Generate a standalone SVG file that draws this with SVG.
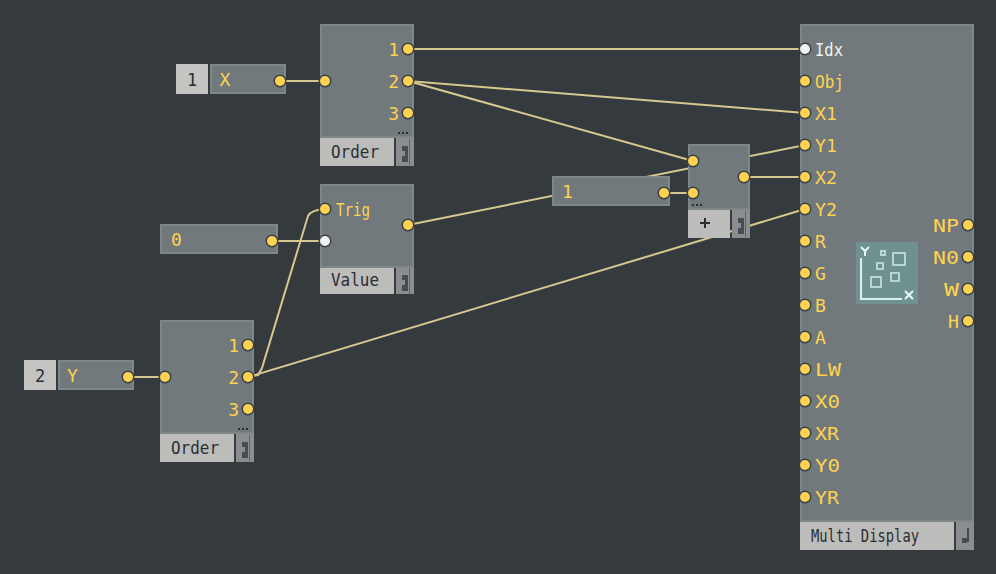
<svg xmlns="http://www.w3.org/2000/svg" width="996" height="574" viewBox="0 0 996 574">
<style>
.n{fill:#72797c;stroke:#7f8688;stroke-width:2}
.l{fill:#bcbcba}
.s{fill:#8b8e90}
.i{fill:#c4c4c2}
.w{fill:none;stroke:#d6c88e;stroke-width:2}
.h{fill:#3b3f44}
.p{fill:#fdd34f}
.q{fill:#f2f2f2}
text{font-family:"DejaVu Sans Mono","Liberation Mono",monospace;font-size:18px}
.y{fill:#fdd34f}
.d{fill:#2b2e32;font-size:17px}
.g{fill:#484c50}
.v{fill:#5d6265}
.c{fill:none;stroke:#b6d6d4;stroke-width:2}
</style>
<defs>
<g id="port"><circle r="6.5" class="h"/><circle r="5" class="p"/></g>
<g id="wport"><circle r="6.5" class="h"/><circle r="5" class="q"/></g>
<g id="dots"><rect x="0" width="2" height="2" class="d"/><rect x="4" width="2" height="2" class="d"/><rect x="8" width="2" height="2" class="d"/></g>
<g id="sicon"><path d="M2,1h6v5h-6zM5,6h3v5h-3zM2,11h6v6h-6z" class="g"/><rect x="9" y="-6" width="1" height="26" class="v"/></g>
</defs>
<rect width="996" height="574" fill="#343a3e"/>
<g id="connectors">
<path class="w" d="M280,81H325"/>
<path class="w" d="M408,49H805"/>
<path class="w" d="M408,81L805,113"/>
<path class="w" d="M408,81L693,161"/>
<path class="w" d="M272,241H325"/>
<path class="w" d="M128,377H165"/>
<path class="w" d="M248,377L258,375L262,368L308,216Q311,210 325,209"/>
<path class="w" d="M248,377L805,209"/>
<path class="w" d="M408,225L805,145"/>
<path class="w" d="M664,193H693"/>
<path class="w" d="M744,177H805"/>
</g>
<g id="x-index"><rect x="176" y="64" width="32" height="30" class="i"/><text x="192" y="86" text-anchor="middle" class="d">1</text></g>
<g id="x-const"><rect x="211" y="65" width="74" height="28" class="n"/><text x="219.5" y="85.5" class="y">X</text><use href="#port" x="280" y="81"/></g>
<g id="y-index"><rect x="24" y="360" width="32" height="30" class="i"/><text x="40" y="382" text-anchor="middle" class="d">2</text></g>
<g id="y-const"><rect x="59" y="361" width="74" height="28" class="n"/><text x="67" y="381.5" class="y">Y</text><use href="#port" x="128" y="377"/></g>
<g id="zero-const"><rect x="161" y="225" width="116" height="28" class="n"/><text x="171" y="245.5" class="y">0</text><use href="#port" x="272" y="241"/></g>
<g id="one-const"><rect x="553" y="177" width="116" height="28" class="n"/><text x="562" y="197.5" class="y">1</text><use href="#port" x="664" y="193"/></g>
<g id="order-x">
<rect x="321" y="25" width="92" height="112" class="n"/>
<use href="#port" x="325" y="81"/><use href="#port" x="408" y="49"/><use href="#port" x="408" y="81"/><use href="#port" x="408" y="113"/>
<text x="399" y="55.5" text-anchor="end" class="y">1</text><text x="399" y="87.5" text-anchor="end" class="y">2</text><text x="399" y="119.5" text-anchor="end" class="y">3</text>
<use href="#dots" x="398" y="132"/>
<rect x="320" y="138" width="74" height="28" class="l"/><text x="331" y="157.5" textLength="48" lengthAdjust="spacingAndGlyphs" class="d">Order</text>
<rect x="396" y="138" width="18" height="28" class="s"/><use href="#sicon" x="400" y="145"/>
</g>
<g id="value">
<rect x="321" y="185" width="92" height="82" class="n"/>
<use href="#port" x="325" y="209"/><use href="#wport" x="325" y="241"/><use href="#port" x="408" y="225"/>
<text x="336" y="215.5" textLength="34" lengthAdjust="spacingAndGlyphs" class="y">Trig</text>
<rect x="320" y="268" width="74" height="26" class="l"/><text x="331" y="286" textLength="48" lengthAdjust="spacingAndGlyphs" class="d">Value</text>
<rect x="396" y="268" width="18" height="26" class="s"/><use href="#sicon" x="400" y="274"/>
</g>
<g id="order-y">
<rect x="161" y="321" width="92" height="112" class="n"/>
<use href="#port" x="165" y="377"/><use href="#port" x="248" y="345"/><use href="#port" x="248" y="377"/><use href="#port" x="248" y="409"/>
<text x="239" y="351.5" text-anchor="end" class="y">1</text><text x="239" y="383.5" text-anchor="end" class="y">2</text><text x="239" y="415.5" text-anchor="end" class="y">3</text>
<use href="#dots" x="238" y="428"/>
<rect x="160" y="434" width="74" height="28" class="l"/><text x="171" y="453.5" textLength="48" lengthAdjust="spacingAndGlyphs" class="d">Order</text>
<rect x="236" y="434" width="18" height="28" class="s"/><use href="#sicon" x="240" y="441"/>
</g>
<g id="plus">
<rect x="689" y="145" width="60" height="64" class="n"/>
<use href="#port" x="693" y="161"/><use href="#port" x="693" y="193"/><use href="#port" x="744" y="177"/>
<use href="#dots" x="692" y="204"/>
<rect x="688" y="210" width="42" height="28" class="l"/><path d="M700,222h10v2h-10zM704,218h2v10h-2z" class="d"/>
<rect x="732" y="210" width="18" height="28" class="s"/><use href="#sicon" x="736" y="217"/>
</g>
<g id="multi-display">
<rect x="801" y="25" width="172" height="496" class="n"/>
<use href="#wport" x="805" y="49"/>
<use href="#port" x="805" y="81"/><use href="#port" x="805" y="113"/><use href="#port" x="805" y="145"/><use href="#port" x="805" y="177"/><use href="#port" x="805" y="209"/><use href="#port" x="805" y="241"/><use href="#port" x="805" y="273"/><use href="#port" x="805" y="305"/><use href="#port" x="805" y="337"/><use href="#port" x="805" y="369"/><use href="#port" x="805" y="401"/><use href="#port" x="805" y="433"/><use href="#port" x="805" y="465"/><use href="#port" x="805" y="497"/>
<use href="#port" x="968" y="225"/><use href="#port" x="968" y="257"/><use href="#port" x="968" y="289"/><use href="#port" x="968" y="321"/>
<text x="815" y="55.5" fill="#f2f2f2" textLength="28" lengthAdjust="spacingAndGlyphs">Idx</text>
<text class="y" x="815" y="87.5" textLength="29" lengthAdjust="spacingAndGlyphs">Obj</text>
<text class="y" x="815" y="119.5" textLength="22" lengthAdjust="spacingAndGlyphs">X1</text>
<text class="y" x="815" y="151.5" textLength="22" lengthAdjust="spacingAndGlyphs">Y1</text>
<text class="y" x="815" y="183.5" textLength="22" lengthAdjust="spacingAndGlyphs">X2</text>
<text class="y" x="815" y="215.5" textLength="22" lengthAdjust="spacingAndGlyphs">Y2</text>
<text class="y" x="815" y="247.5">R</text>
<text class="y" x="815" y="279.5">G</text>
<text class="y" x="815" y="311.5">B</text>
<text class="y" x="815" y="343.5">A</text>
<text class="y" x="815" y="375.5" textLength="26" lengthAdjust="spacingAndGlyphs">LW</text>
<text class="y" x="815" y="407.5" textLength="25" lengthAdjust="spacingAndGlyphs">X0</text>
<text class="y" x="815" y="439.5" textLength="24" lengthAdjust="spacingAndGlyphs">XR</text>
<text class="y" x="815" y="471.5" textLength="25" lengthAdjust="spacingAndGlyphs">Y0</text>
<text class="y" x="815" y="503.5" textLength="24" lengthAdjust="spacingAndGlyphs">YR</text>
<text class="y" x="933" y="231.5" textLength="26" lengthAdjust="spacingAndGlyphs">NP</text>
<text class="y" x="933" y="263.5" textLength="26" lengthAdjust="spacingAndGlyphs">N0</text>
<text class="y" x="944" y="295.5" textLength="15" lengthAdjust="spacingAndGlyphs">W</text>
<text class="y" x="948" y="327.5">H</text>
<rect x="856" y="242" width="62" height="62" fill="#6f9190"/>
<path d="M861,258V299H902" fill="none" stroke="#d8f0ee" stroke-width="2"/>
<path d="M861,247l4,4l4,-4M865,251v5" fill="none" stroke="#e8f8f6" stroke-width="2"/>
<path d="M905,291l8,8M913,291l-8,8" fill="none" stroke="#e8f8f6" stroke-width="2"/>
<rect x="881" y="251" width="4" height="4" class="c"/>
<rect x="893" y="253" width="12" height="12" class="c"/>
<rect x="877" y="263" width="6" height="6" class="c"/>
<rect x="891" y="273" width="8" height="8" class="c"/>
<rect x="871" y="277" width="10" height="10" class="c"/>
<rect x="800" y="522" width="154" height="28" class="l"/><text x="811" y="541.5" textLength="108" lengthAdjust="spacingAndGlyphs" class="d">Multi Display</text>
<rect x="956" y="522" width="18" height="28" class="s"/><path d="M967,528h2v14h-2zM962,538h5v5h-5z" class="g"/>
</g>
</svg>
